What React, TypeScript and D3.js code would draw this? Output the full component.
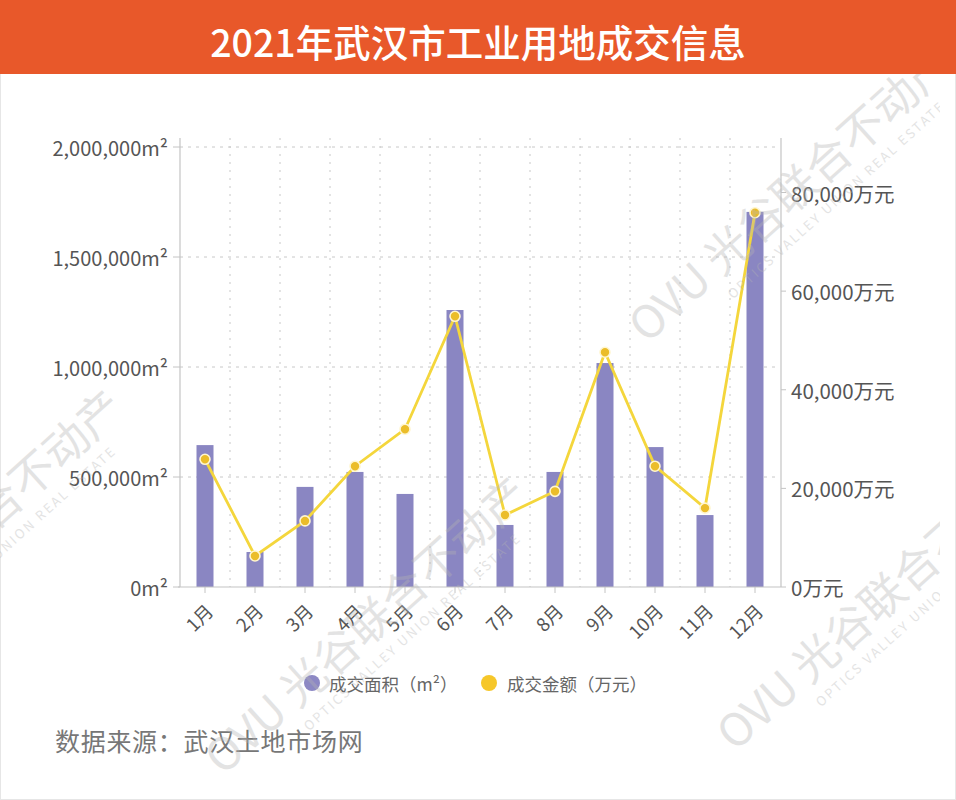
import React from 'react';
import * as d3 from 'd3';

const months = ['1月', '2月', '3月', '4月', '5月', '6月', '7月', '8月', '9月', '10月', '11月', '12月'];
const areaValues = [645000, 159000, 455000, 523000, 423000, 1259000, 282000, 523000, 1018000, 636000, 327000, 1705000];
const amountValues = [25900, 6300, 13400, 24500, 32000, 54900, 14600, 19400, 47600, 24500, 16000, 75900];
const leftTicks = [0, 500000, 1000000, 1500000, 2000000];
const rightTicks = [0, 20000, 40000, 60000, 80000];
const titleText = '2021年武汉市工业用地成交信息';
const legendLabels = ['成交面积（m²）', '成交金额（万元）'];
const sourceText = '数据来源：武汉土地市场网';
const watermarkMain = 'OVU 光谷联合不动产';
const watermarkSub = 'OPTICS VALLEY UNION REAL ESTATE';

const FONT = '"Noto Sans CJK SC", "Noto Sans", sans-serif';

export default function App() {
  const W = 956, H = 800;
  const left = 180, right = 780, bottom = 587, top = 138;
  const x = d3.scaleBand<string>().domain(months).range([left, right]);
  const yL = d3.scaleLinear().domain([0, 2000000]).range([bottom, 147]);
  const yR = d3.scaleLinear().domain([0, 80000]).range([bottom, 192.5]);
  const cx = (m: string) => (x(m) as number) + x.bandwidth() / 2;
  const barW = 17;
  const fmt = d3.format(',');
  const line = d3.line<number>().x((_, i) => cx(months[i])).y(d => yR(d));

  const barColor = '#8a86c2';
  const lineColor = '#f4d63c';
  const pointColor = '#ebbd2a';
  const axisColor = '#c4c4c4';
  const gridColor = '#c8c8c8';
  const textColor = '#555';

  const wmAnchors = [[634, 330], [722, 738], [210, 762], [-195, 675]];

  return (
    <svg width={W} height={H} style={{ position: 'absolute', left: 0, top: 0 }} fontFamily={FONT}>
      <defs>
        <clipPath id="pageClip">
          <rect x={0} y={74} width={940} height={H - 74} />
        </clipPath>
      </defs>
      <rect x={0} y={0} width={W} height={H} fill="#fff" stroke="#e6e6e6" strokeWidth={2} />
      <rect x={0} y={0} width={W} height={74} fill="#e8582a" />
      <text x={W / 2} y={40} textAnchor="middle" dominantBaseline="central" fill="#fff" fontSize={37.5} fontWeight={500}>
        {titleText}
      </text>

      {/* grid */}
      {leftTicks.filter(t => t > 0).map(t => (
        <line key={'h' + t} x1={left} x2={right} y1={yL(t)} y2={yL(t)} stroke={gridColor} strokeDasharray="3,5" />
      ))}
      {months.slice(1).map(m => (
        <line key={'v' + m} x1={x(m)} x2={x(m)} y1={top} y2={bottom} stroke={gridColor} strokeDasharray="2,6" />
      ))}

      {/* bars */}
      {areaValues.map((v, i) => (
        <rect key={'b' + i} x={cx(months[i]) - barW / 2} y={yL(v)} width={barW} height={bottom - yL(v)} fill={barColor} />
      ))}

      {/* axes */}
      <line x1={left} x2={left} y1={top} y2={bottom} stroke={axisColor} strokeWidth={1.2} />
      <line x1={right + 1} x2={right + 1} y1={top} y2={bottom} stroke={axisColor} strokeWidth={1.2} />
      <line x1={left - 2} x2={right + 1} y1={bottom} y2={bottom} stroke={axisColor} strokeWidth={1.2} />
      {leftTicks.map(t => (
        <g key={'lt' + t}>
          <line x1={left - 7} x2={left} y1={yL(t)} y2={yL(t)} stroke={axisColor} />
          <text x={left - 12} y={yL(t)} textAnchor="end" dominantBaseline="central" fontSize={20} fill={textColor}>
            {fmt(t) + 'm²'}
          </text>
        </g>
      ))}
      {rightTicks.map(t => (
        <g key={'rt' + t}>
          <line x1={right + 1} x2={right + 6} y1={yR(t)} y2={yR(t)} stroke={axisColor} />
          <text x={right + 11} y={yR(t)} dominantBaseline="central" fontSize={20.5} fill={textColor}>
            {fmt(t) + '万元'}
          </text>
        </g>
      ))}
      {months.map(m => (
        <g key={'xt' + m}>
          <line x1={cx(m)} x2={cx(m)} y1={bottom} y2={bottom + 6} stroke={axisColor} />
          <text
            x={cx(m) + 4}
            y={bottom + 20}
            textAnchor="end"
            dominantBaseline="central"
            fontSize={18.5}
            fill={textColor}
            transform={`rotate(-45 ${cx(m) + 4} ${bottom + 20})`}
          >
            {m}
          </text>
        </g>
      ))}

      {/* line */}
      <path d={line(amountValues) || ''} fill="none" stroke={lineColor} strokeWidth={2.8} />
      {amountValues.map((v, i) => (
        <circle key={'p' + i} cx={cx(months[i])} cy={yR(v)} r={5} fill={pointColor} stroke="#fff6d0" strokeWidth={1.6} />
      ))}

      {/* legend */}
      <circle cx={312} cy={683} r={8} fill="#8c88c4" />
      <text x={329} y={683} dominantBaseline="central" fontSize={17.5} fill="#666">{legendLabels[0]}</text>
      <circle cx={489} cy={683} r={8} fill="#f6c72a" />
      <text x={507} y={683} dominantBaseline="central" fontSize={17.5} fill="#666">{legendLabels[1]}</text>

      {/* source */}
      <text x={55} y={740} dominantBaseline="central" fontSize={25} letterSpacing={0.7} fill="#777">{sourceText}</text>

      {/* watermarks */}
      <g clipPath="url(#pageClip)">
        {wmAnchors.map(([ax, ay], i) => (
          <g key={'wm' + i} transform={`translate(${ax},${ay}) rotate(-42)`} fill="#b4b4b4" opacity={0.36}>
            <text x={0} y={0} dominantBaseline="central" fontSize={45} fontWeight={400}>{watermarkMain}</text>
            <text x={94} y={38} dominantBaseline="central" fontSize={13} textLength={285} lengthAdjust="spacing">{watermarkSub}</text>
          </g>
        ))}
      </g>
    </svg>
  );
}
